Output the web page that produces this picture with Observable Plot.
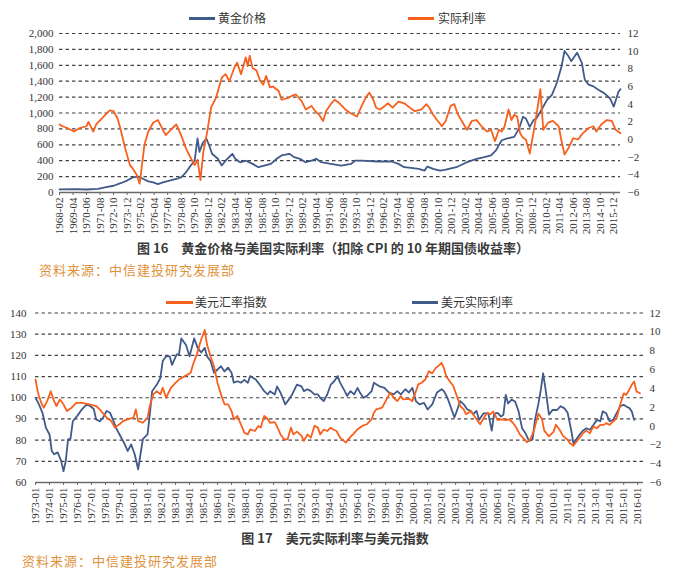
<!DOCTYPE html>
<html><head><meta charset="utf-8">
<script src="https://cdn.jsdelivr.net/npm/d3@7"></script>
<script src="https://cdn.jsdelivr.net/npm/@observablehq/plot@0.6"></script>
<style>
body{margin:0;background:#fff;width:682px;height:571px;position:relative;overflow:hidden;font-family:"Noto Sans CJK SC",sans-serif;}
.chart{position:absolute;left:0;}
.chart svg, .chart svg text{font-family:"Liberation Serif","DejaVu Serif",serif !important;}
.leg{position:absolute;font-size:12px;color:#333;white-space:nowrap;line-height:12px;}
.sw{position:absolute;height:2.5px;}
.title{position:absolute;font-weight:bold;font-size:13px;color:#3a3a3a;white-space:nowrap;transform:translateX(-50%);line-height:14px;}
.src{position:absolute;font-size:13px;color:#e0923c;letter-spacing:1px;white-space:nowrap;line-height:14px;}
</style></head><body>
<div id="c1" class="chart" style="top:20px"></div>
<div id="c2" class="chart" style="top:300px"></div>

<div class="sw" style="left:189px;top:17px;width:26px;background:#405a8a"></div>
<div class="leg" style="left:218px;top:12px">黄金价格</div>
<div class="sw" style="left:408px;top:17px;width:26px;background:#f8601e"></div>
<div class="leg" style="left:438px;top:12px">实际利率</div>
<div class="title" style="left:333px;top:241px">图 16　黄金价格与美国实际利率（扣除 CPI 的 10 年期国债收益率）</div>
<div class="src" style="left:39px;top:263px">资料来源：中信建投研究发展部</div>

<div class="sw" style="left:166px;top:301px;width:27px;background:#f8601e"></div>
<div class="leg" style="left:195px;top:296px">美元汇率指数</div>
<div class="sw" style="left:412px;top:301px;width:26px;background:#405a8a"></div>
<div class="leg" style="left:441px;top:296px">美元实际利率</div>
<div class="title" style="left:335px;top:531px">图 17　美元实际利率与美元指数</div>
<div class="src" style="left:22px;top:554px">资料来源：中信建投研究发展部</div>

<script>
// ---------- Chart 16: gold price (left axis) & US real rate (right axis) ----------
const goldDates = [
"1968-02","1969-06","1970-06","1971-06","1972-01","1972-10","1973-06","1973-12","1974-06","1974-12",
"1975-05","1975-10","1976-03","1976-08","1977-01","1977-08","1978-03","1978-08","1979-01","1979-06",
"1979-10","1980-01","1980-03","1980-06","1980-10","1981-01","1981-04","1981-10","1982-02","1982-06",
"1983-01","1983-04","1983-09","1984-03","1984-10","1985-04","1985-10","1986-05","1986-11","1987-04",
"1987-12","1988-05","1988-11","1989-05","1989-11","1990-04","1990-09","1991-07","1992-06","1993-04",
"1993-08","1994-03","1995-07","1996-10","1997-05","1997-11","1998-06","1999-02","1999-08","1999-11",
"2000-05","2000-12","2001-05","2002-05","2003-04","2004-02","2004-10","2005-05","2005-10","2006-04",
"2006-09","2007-05","2007-10","2008-02","2008-05","2008-09","2009-01","2009-04","2009-09","2010-03",
"2010-08","2011-01","2011-06","2011-09","2012-01","2012-04","2012-10","2013-03","2013-06","2013-10",
"2014-03","2014-08","2015-02","2015-08","2015-12","2016-05","2016-07"];
const goldValues = [
40,42,38,45,64,85,120,150,190,200,
170,140,127,106,127,148,170,190,254,339,
400,680,510,615,680,593,487,424,339,400,
487,424,380,400,360,318,339,360,424,466,
487,445,424,381,400,424,381,360,339,360,
400,400,390,390,360,318,310,297,275,326,
297,275,284,318,381,424,445,466,530,657,
678,700,805,953,932,826,911,932,1038,1165,
1229,1377,1589,1780,1716,1652,1758,1631,1419,1356,
1335,1292,1250,1186,1080,1271,1300];

const rate1Dates = [
"1968-02","1968-05","1968-10","1969-05","1969-11","1970-06","1970-08","1971-01","1971-04","1971-10",
"1972-06","1972-10","1973-02","1973-05","1973-10","1974-03","1974-06","1974-10","1975-01","1975-03",
"1975-06","1975-10","1976-03","1976-08","1977-02","1977-04","1977-11","1978-03","1978-08","1979-01",
"1979-06","1979-10","1980-01","1980-04","1980-07","1980-11","1981-03","1981-08","1982-02","1982-06",
"1982-10","1983-03","1983-06","1983-10","1984-03","1984-05","1984-07","1984-10","1985-02","1985-06",
"1985-09","1985-12","1986-04","1986-07","1987-01","1987-04","1987-11","1988-02","1988-07","1989-01",
"1989-05","1989-11","1990-03","1990-07","1990-11","1991-02","1991-07","1991-11","1992-04","1992-10",
"1993-03","1993-10","1994-03","1994-08","1994-11","1995-03","1995-06","1995-10","1996-03","1996-06",
"1996-11","1997-05","1997-11","1998-05","1998-10","1999-05","1999-10","2000-01","2000-05","2000-09",
"2001-02","2001-06","2001-11","2002-03","2002-06","2002-10","2003-04","2003-09","2004-02","2004-07",
"2005-01","2005-05","2005-09","2006-01","2006-04","2006-07","2006-11","2007-02","2007-05","2007-08",
"2007-11","2008-02","2008-05","2008-09","2009-01","2009-04","2009-08","2009-11","2010-04","2010-09",
"2011-03","2011-06","2011-09","2012-01","2012-06","2012-11","2013-04","2013-10","2014-03","2014-06",
"2014-11","2015-05","2015-10","2016-02","2016-07"];
const rate1Values = [
1.7,1.5,1.3,0.9,1.3,1.5,2.0,0.9,1.7,2.4,
3.3,3.2,2.4,1.3,-1.0,-2.9,-3.3,-4.0,-5.0,-3.3,
-0.6,0.9,1.9,2.2,0.9,0.5,1.3,1.7,0.5,-1.0,
-2.1,-2.9,-2.3,-4.6,-1.4,0.9,3.6,4.7,7.0,7.4,
6.6,8.1,8.7,7.4,9.3,8.3,9.5,8.1,7.8,6.6,
6.2,7.2,5.9,6.0,5.5,4.5,4.7,4.9,5.1,4.3,
3.4,3.8,3.2,2.8,2.1,3.2,4.0,4.5,4.1,3.4,
3.0,2.6,3.8,4.9,5.3,4.5,3.6,3.4,3.8,4.1,
3.6,4.3,4.1,3.6,3.2,3.4,4.0,3.6,2.8,2.2,
1.5,2.1,3.8,4.0,3.0,2.2,1.1,2.1,2.2,1.5,
0.9,1.1,-0.2,1.1,0.9,1.5,3.4,2.2,2.8,2.6,
0.7,0.2,0.0,-1.6,0.9,2.8,5.7,1.1,1.9,2.1,
1.5,-0.2,-1.7,-1.0,0.15,0.0,0.7,1.3,1.5,0.9,
1.7,2.2,2.1,1.1,0.7];

const xTicks1 = [
"1968-02","1969-04","1970-06","1971-08","1972-10","1973-12","1975-02","1976-04","1977-06","1978-08",
"1979-10","1980-12","1982-02","1983-04","1984-06","1985-08","1986-10","1987-12","1989-02","1990-04",
"1991-06","1992-08","1993-10","1994-12","1996-02","1997-04","1998-06","1999-08","2000-10","2001-12",
"2003-02","2004-04","2005-06","2006-08","2007-10","2008-12","2010-02","2011-04","2012-06","2013-08",
"2014-10","2015-12"];
const leftTicks1 = [0,200,400,600,800,1000,1200,1400,1600,1800,2000];
const rightTicks1 = [-6,-4,-2,0,2,4,6,8,10,12];

// ---------- Chart 17: dollar index (left axis) & US real rate (right axis) ----------
const dxyDates = [
"1973-01","1973-03","1973-04","1973-06","1973-08","1973-11","1974-02","1974-05","1974-07","1974-10",
"1975-01","1975-04","1975-08","1975-12","1976-05","1976-11","1977-05","1977-08","1978-02","1978-06",
"1978-09","1979-01","1979-04","1979-08","1980-01","1980-03","1980-05","1980-09","1981-01","1981-03",
"1981-06","1981-09","1981-12","1982-02","1982-05","1982-09","1983-01","1983-04","1983-09","1984-02",
"1984-04","1984-07","1984-11","1985-02","1985-04","1985-07","1985-10","1986-01","1986-04","1986-07",
"1986-10","1987-01","1987-03","1987-06","1987-09","1987-12","1988-03","1988-05","1988-09","1988-12",
"1989-02","1989-05","1989-08","1989-10","1990-02","1990-04","1990-07","1990-10","1991-01","1991-04",
"1991-06","1991-09","1992-01","1992-03","1992-06","1992-09","1992-12","1993-03","1993-05","1993-08",
"1993-11","1994-02","1994-04","1994-07","1994-10","1995-03","1995-05","1995-09","1996-01","1996-05",
"1996-09","1997-01","1997-03","1997-05","1997-10","1998-01","1998-05","1998-08","1998-11","1999-02",
"1999-04","1999-09","1999-12","2000-03","2000-05","2000-08","2000-11","2001-02","2001-05","2001-08",
"2001-10","2002-01","2002-03","2002-05","2002-08","2002-11","2003-02","2003-05","2003-08","2003-10",
"2004-02","2004-04","2004-07","2004-10","2005-01","2005-04","2005-07","2005-09","2006-01","2006-04",
"2006-08","2006-11","2007-02","2007-05","2007-08","2007-11","2008-02","2008-05","2008-08","2008-10",
"2008-12","2009-03","2009-05","2009-09","2010-01","2010-03","2010-06","2010-09","2011-01","2011-03",
"2011-06","2011-09","2011-12","2012-02","2012-05","2012-08","2012-11","2013-02","2013-05","2013-08",
"2013-10","2014-01","2014-04","2014-07","2014-10","2015-01","2015-03","2015-05","2015-08","2015-10",
"2015-12","2016-03"];
const dxyValues = [
108.6,103,100.8,97.6,95.3,98.4,103.1,98.4,96.1,99.2,
96.9,93.7,95.3,97.6,97.6,96.9,96.1,94.5,90.6,89.0,
85.9,87.5,89.0,89.8,90.6,94.5,89.0,88.2,90.6,96.1,
101.6,103.1,101.6,104.7,100,104.7,107,108.6,110.2,111.8,
115.7,120,127.5,132,125.1,119.6,114.9,107,101.6,96.9,
96.9,93.7,89.8,91.4,87.5,83.5,82.7,85.1,84.3,86.7,
86,91.4,90,88.2,88.5,86.5,82.7,80.4,80.4,85.9,
82.7,84,82,79.6,82.7,81.2,86.7,85.9,82.7,85,
84.3,85.9,85,84.3,81.2,78.8,80.4,82.7,85.1,86.7,
87.5,89.8,92.9,94.5,95.3,98.4,102.4,100,98.4,100.8,
99.2,99.5,98.4,103.1,106.3,107.1,108.6,112.5,111.5,114.1,
114.9,116.5,114,110.2,107.8,105.5,100.8,96.1,94.5,92.2,
93.7,92.2,89.8,87.5,90.3,92.9,92.2,93.5,89.5,89.8,
89.5,89.8,88.2,86,82.7,81,79,80.4,84.3,88.5,
92.5,90,84.5,81.8,84,87.3,85,82,80.2,78.5,
77.3,79.6,81.6,83.2,84.5,83.2,86.4,85.6,87.2,87.2,
88,87.2,88.8,90.3,96.6,102.1,101.3,102.9,106.1,107.7,
103,102.1];

const rate2Dates = [
"1973-01","1973-04","1973-07","1973-10","1974-01","1974-03","1974-05","1974-08","1974-11","1975-01",
"1975-03","1975-05","1975-07","1975-09","1976-01","1976-05","1976-09","1976-12","1977-03","1977-05",
"1977-08","1977-11","1978-02","1978-05","1978-08","1978-10","1979-01","1979-05","1979-08","1979-11",
"1980-02","1980-05","1980-07","1980-09","1981-01","1981-03","1981-05","1981-09","1981-12","1982-02",
"1982-05","1982-08","1982-10","1983-02","1983-04","1983-06","1983-10","1984-01","1984-05","1984-08",
"1984-11","1985-02","1985-04","1985-07","1985-10","1986-01","1986-04","1986-07","1986-10","1987-01",
"1987-03","1987-06","1987-09","1987-12","1988-03","1988-05","1988-10","1989-01","1989-05","1989-08",
"1989-10","1990-02","1990-04","1990-07","1990-11","1991-02","1991-05","1991-09","1992-01","1992-03",
"1992-06","1992-09","1992-12","1993-03","1993-05","1993-08","1993-11","1994-02","1994-05","1994-08",
"1994-10","1995-02","1995-04","1995-07","1995-10","1996-01","1996-03","1996-06","1996-09","1997-01",
"1997-03","1997-08","1997-12","1998-04","1998-08","1998-11","1999-02","1999-06","1999-09","1999-12",
"2000-03","2000-06","2000-10","2001-01","2001-05","2001-09","2002-01","2002-03","2002-06","2002-09",
"2002-12","2003-02","2003-05","2003-08","2003-11","2004-02","2004-04","2004-07","2004-09","2005-01",
"2005-05","2005-08","2005-10","2006-01","2006-04","2006-06","2006-08","2006-10","2007-01","2007-04",
"2007-07","2007-10","2008-01","2008-04","2008-07","2008-09","2008-12","2009-02","2009-04","2009-06",
"2009-09","2009-12","2010-04","2010-07","2010-10","2011-01","2011-04","2011-06","2011-09","2011-12",
"2012-02","2012-05","2012-08","2012-11","2013-02","2013-05","2013-07","2013-10","2014-01","2014-04",
"2014-07","2014-10","2015-01","2015-03","2015-06","2015-08","2015-10"];
const rate2Values = [
3.0,2.3,1.4,-0.2,-0.9,-2.65,-3.0,-2.8,-3.7,-4.8,
-3.7,-1.4,-1.4,0.5,1.1,1.8,2.3,2.1,1.8,0.7,
0.5,0.9,1.6,1.4,0.5,-0.2,-0.9,-1.8,-2.65,-1.95,
-3.0,-4.6,-3.0,-1.4,-0.9,1.2,3.7,4.4,5.1,6.9,
7.4,7.4,6.5,7.6,7.6,9.3,8.6,7.4,9.3,8.3,
7.8,8.3,7.4,6.9,5.65,6.0,6.35,5.8,6.2,5.65,
4.6,4.75,4.6,4.9,4.6,5.3,4.9,4.4,3.7,3.35,
3.7,3.35,4.2,3.55,2.3,2.8,3.35,4.4,4.2,3.7,
3.9,3.7,3.35,3.35,3.0,2.65,3.35,4.4,4.75,5.3,
4.6,3.7,3.2,3.7,3.35,4.05,3.55,3.0,3.2,3.7,
4.6,4.2,4.05,3.55,3.35,3.7,3.35,3.9,3.55,4.05,
2.65,2.3,2.45,1.75,2.3,3.55,3.9,3.7,3.0,1.95,
0.9,1.6,2.65,2.3,1.75,1.6,1.25,1.6,0.65,1.35,
1.35,-0.5,1.3,1.4,1.0,1.2,3.3,2.4,2.8,2.6,
1.55,-0.25,-0.8,-1.6,-1.4,0.65,2.4,3.85,5.6,4.0,
1.2,1.7,1.7,2.1,1.9,1.4,-0.4,-1.85,-1.3,-0.8,
-0.5,-0.25,-0.4,0.1,0.65,0.5,1.55,1.35,0.5,0.65,
1.35,2.1,2.25,2.1,1.9,1.55,0.65];

const xTicks2 = [
"1973-01","1974-01","1975-01","1976-01","1977-01","1978-01","1979-01","1980-01","1981-01","1982-01",
"1983-01","1984-01","1985-01","1986-01","1987-01","1988-01","1989-01","1990-01","1991-01","1992-01",
"1993-01","1994-01","1995-01","1996-01","1997-01","1998-01","1999-01","2000-01","2001-01","2002-01",
"2003-01","2004-01","2005-01","2006-01","2007-01","2008-01","2009-01","2010-01","2011-01","2012-01",
"2013-01","2014-01","2015-01","2016-01"];
const leftTicks2 = [60,70,80,90,100,110,120,130,140];
const rightTicks2 = [-6,-4,-2,0,2,4,6,8,10,12];

// ---------- drawing ----------
const BLUE = "#405a8a", ORANGE = "#f8601e", GRID = "#444";
const parse = d3.utcParse("%Y-%m");
const fmtYM = d3.utcFormat("%Y-%m");
const fmtR = v => { const r = Math.round(v); return r < 0 ? "\u2212" + Math.abs(r) : String(r); };
const style = {fontFamily: "Liberation Serif, DejaVu Serif, serif", fontSize: "11px", color: "#333", background: "transparent", overflow: "visible"};
const pairs = (dates, vals, f) => dates.slice(0, Math.min(dates.length, vals.length)).map((d, i) => ({date: parse(d), v: f(vals[i])}));

// chart 16
const toLeft1 = r => (r + 6) / 18 * 2000;
const fromLeft1 = y => y / 2000 * 18 - 6;
const c1 = Plot.plot({
  width: 682, height: 220, marginTop: 13, marginBottom: 48, marginLeft: 59, marginRight: 62,
  style,
  x: {type: "utc", domain: [parse("1968-02"), parse("2016-07")]},
  y: {domain: [0, 2000]},
  marks: [
    Plot.ruleY(leftTicks1.filter(d => d > 0), {stroke: GRID, strokeWidth: 1.2, strokeDasharray: "3.5,3"}),
    Plot.ruleY([0], {stroke: "#6a6a6a", strokeWidth: 1.4}),
    Plot.line(pairs(goldDates, goldValues, v => v), {x: "date", y: "v", stroke: BLUE, strokeWidth: 1.8}),
    Plot.line(pairs(rate1Dates, rate1Values, toLeft1), {x: "date", y: "v", stroke: ORANGE, strokeWidth: 1.8}),
    Plot.axisY(leftTicks1, {anchor: "left", tickSize: 0, tickPadding: 6, tickFormat: d3.format(","), label: null}),
    Plot.axisY(rightTicks1.map(toLeft1), {anchor: "right", tickSize: 0, tickPadding: 7, tickFormat: v => fmtR(fromLeft1(v)), label: null}),
    Plot.axisX(xTicks1.map(parse), {anchor: "bottom", tickSize: 3, tickPadding: 2, tickRotate: -90, tickFormat: fmtYM, label: null, stroke: "#6a6a6a"})
  ]
});
document.getElementById("c1").appendChild(c1);

// chart 17
const toLeft2 = r => 60 + (r + 6) * 80 / 18;
const fromLeft2 = y => (y - 60) * 18 / 80 - 6;
const c2 = Plot.plot({
  width: 682, height: 230, marginTop: 12.5, marginBottom: 48, marginLeft: 35, marginRight: 39,
  style,
  x: {type: "utc", domain: [parse("1973-01"), parse("2016-06")]},
  y: {domain: [60, 140]},
  marks: [
    Plot.ruleY(leftTicks2.filter(d => d > 60), {stroke: GRID, strokeWidth: 1.2, strokeDasharray: "3.5,3"}),
    Plot.ruleY([60], {stroke: "#6a6a6a", strokeWidth: 1.4}),
    Plot.line(pairs(rate2Dates, rate2Values, toLeft2), {x: "date", y: "v", stroke: BLUE, strokeWidth: 1.8}),
    Plot.line(pairs(dxyDates, dxyValues, v => v), {x: "date", y: "v", stroke: ORANGE, strokeWidth: 1.8}),
    Plot.axisY(leftTicks2, {anchor: "left", tickSize: 0, tickPadding: 9, label: null}),
    Plot.axisY(rightTicks2.map(toLeft2), {anchor: "right", tickSize: 0, tickPadding: 6, tickFormat: v => fmtR(fromLeft2(v)), label: null}),
    Plot.axisX(xTicks2.map(parse), {anchor: "bottom", tickSize: 3, tickPadding: 2, tickRotate: -90, tickFormat: fmtYM, label: null, stroke: "#6a6a6a"})
  ]
});
document.getElementById("c2").appendChild(c2);
</script>
</body></html>
